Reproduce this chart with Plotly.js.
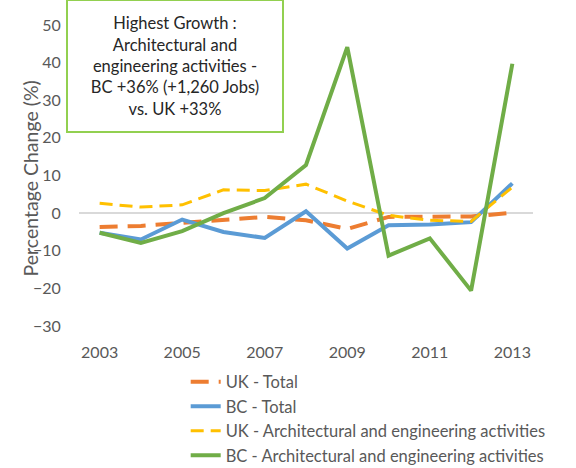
<!DOCTYPE html>
<html>
<head>
<meta charset="utf-8">
<script src="https://cdn.plot.ly/plotly-3.0.1.min.js"></script>
<style>html,body{margin:0;padding:0;background:#fff;}#chart{width:576px;height:468px;}</style>
</head>
<body>
<div id="chart"></div>
<script>
var years = [2003, 2004, 2005, 2006, 2007, 2008, 2009, 2010, 2011, 2012, 2013];
var ukTotal = [-3.7, -3.4, -2.6, -1.9, -1.0, -1.9, -4.2, -1.0, -0.9, -0.9, 0.1];
var bcTotal = [-5.2, -7.0, -1.7, -5.0, -6.6, 0.5, -9.4, -3.2, -3.0, -2.4, 7.9];
var ukArch = [2.6, 1.6, 2.2, 6.2, 6.0, 7.7, 3.2, -0.6, -1.9, -2.2, 6.9];
var bcArch = [-5.2, -7.9, -4.8, 0.0, 4.0, 12.8, 44.1, -11.3, -6.7, -20.6, 39.7];
var seriesNames = ["UK - Total", "BC - Total", "UK - Architectural and engineering activities", "BC - Architectural and engineering activities"];
var xTicks = [2003, 2005, 2007, 2009, 2011, 2013];
var yTicks = [-30, -20, -10, 0, 10, 20, 30, 40, 50];
var yTitle = "Percentage Change (%)";
var noteText = "Highest Growth :<br>Architectural and<br>engineering activities -<br>BC +36% (+1,260 Jobs)<br>vs. UK +33%";

var FONT = "Lato, 'Open Sans', sans-serif";
var traces = [
  {x: years, y: ukTotal, name: seriesNames[0], mode: "lines", legendgroup: "a",
   line: {color: "#ED7D31", width: 4, dash: "18px,10px"}},
  {x: years, y: bcTotal, name: seriesNames[1], mode: "lines", legendgroup: "b",
   line: {color: "#5B9BD5", width: 4}},
  {x: years, y: ukArch, name: seriesNames[2], mode: "lines", legendgroup: "c",
   line: {color: "#FFC000", width: 3, dash: "13px,7px"}},
  {x: years, y: bcArch, name: seriesNames[3], mode: "lines", legendgroup: "d",
   line: {color: "#70AD47", width: 4}}
];
var layout = {
  width: 576, height: 468,
  margin: {l: 79, r: 43, t: 25, b: 142, pad: 0, autoexpand: false},
  paper_bgcolor: "#fff", plot_bgcolor: "#fff",
  font: {family: FONT, size: 16, color: "#595959"},
  showlegend: true,
  legend: {x: 0.235, xanchor: "left", yref: "container", y: 0.221, yanchor: "top",
           font: {family: FONT, size: 16.5, color: "#595959"},
           tracegroupgap: 0, bgcolor: "rgba(0,0,0,0)"},
  xaxis: {range: [2002.5, 2013.5], tickvals: xTicks, ticktext: xTicks.map(String),
          showgrid: false, zeroline: false, showline: false,
          ticks: "outside", ticklen: 12, tickcolor: "rgba(0,0,0,0)",
          tickfont: {family: FONT, size: 16, color: "#595959"}},
  yaxis: {range: [-30, 50], tickvals: yTicks, showgrid: false,
          zeroline: true, zerolinecolor: "#D9D9D9", zerolinewidth: 1.5,
          showline: false, ticks: "outside", ticklen: 14, tickcolor: "rgba(0,0,0,0)",
          tickfont: {family: FONT, size: 16, color: "#595959"}},
  annotations: [{
    xref: "paper", yref: "paper", x: 0.2106, y: 0.864, xanchor: "center", yanchor: "middle",
    text: noteText, showarrow: false, align: "center",
    font: {family: FONT, size: 16.5, color: "#262626"},
    bordercolor: "#92D050", borderwidth: 2, borderpad: 0,
    bgcolor: "#fff", width: 214, height: 130
  }, {
    xref: "paper", yref: "paper", x: -0.106, y: 0.49, xanchor: "center", yanchor: "middle",
    text: yTitle, textangle: -90, showarrow: false,
    font: {family: FONT, size: 19.5, color: "#595959"}
  }]
};
Plotly.newPlot("chart", traces, layout, {displayModeBar: false, staticPlot: true});
</script>
</body>
</html>
